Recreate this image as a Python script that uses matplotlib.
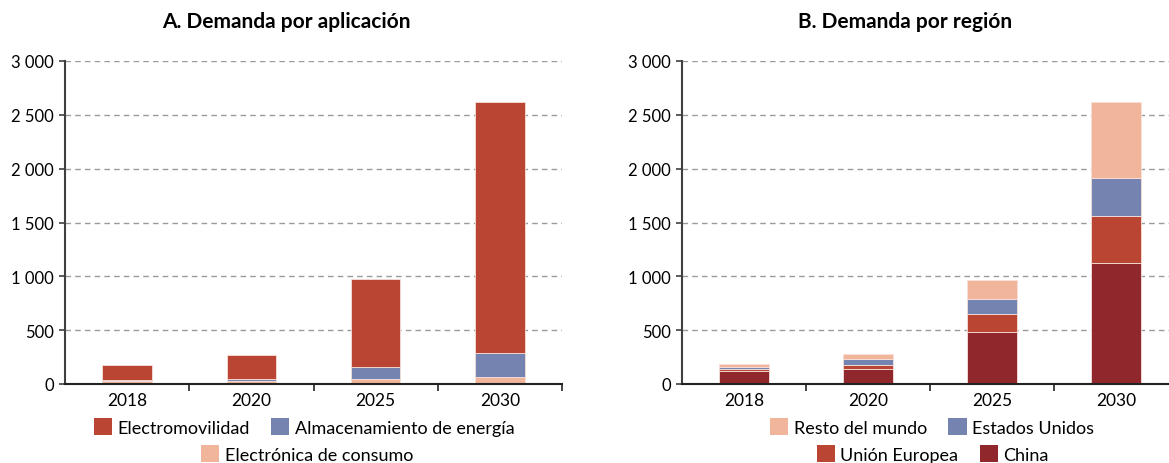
import matplotlib
matplotlib.use("Agg")
import matplotlib.pyplot as plt
from matplotlib.patches import Patch
import numpy as np

plt.rcParams['font.family'] = ['Lato', 'DejaVu Sans']

years = ["2018", "2020", "2025", "2030"]

# Panel A: demand by application
app_labels = ["Electrónica de consumo", "Almacenamiento de energía", "Electromovilidad"]
consumo = [32, 32, 50, 62]
almacenamiento = [5, 15, 105, 222]
electromovilidad = [140, 225, 817, 2336]

# Panel B: demand by region
reg_labels = ["China", "Unión Europea", "Estados Unidos", "Resto del mundo"]
china = [124, 142, 486, 1121]
ue = [15, 31, 164, 439]
eeuu = [21, 62, 139, 356]
resto = [22, 43, 180, 701]

yticks = [0, 500, 1000, 1500, 2000, 2500, 3000]
ytick_labels = ["0", "500", "1 000", "1 500", "2 000", "2 500", "3 000"]

C_RED = "#B94532"
C_BLUE = "#7483B0"
C_PINK = "#F0B59A"
C_DARK = "#90272D"

W, H = 1169, 464
fig = plt.figure(figsize=(W / 100, H / 100), dpi=100)

def px_axes(x0, x1, ytop, ybot):
    return fig.add_axes([x0 / W, (H - ybot) / H, (x1 - x0) / W, (ybot - ytop) / H])

axA = px_axes(65, 562, 62, 385)
axB = px_axes(682, 1178, 62, 385)

def style(ax):
    ax.set_xlim(-0.5, 3.5)
    ax.set_ylim(0, 3000)
    ax.set_yticks(yticks)
    ax.set_yticklabels(ytick_labels, fontsize=12)
    ax.set_xticks(range(len(years)))
    ax.set_xticklabels(years, fontsize=12.5)
    ax.set_xticks([0.5, 1.5, 2.5, 3.5], minor=True)
    ax.tick_params(axis='x', which='major', length=0, pad=6)
    ax.tick_params(axis='x', which='minor', length=5, width=1.2, direction='out', color='#222222')
    ax.tick_params(axis='y', length=4, width=1.2, direction='out', color='#404040', pad=4)
    for s in ['top', 'right']:
        ax.spines[s].set_visible(False)
    ax.spines['left'].set_color('#404040')
    ax.spines['left'].set_linewidth(1.5)
    ax.spines['bottom'].set_color('#222222')
    ax.spines['bottom'].set_linewidth(1.5)
    ax.set_axisbelow(True)
    ax.yaxis.grid(True, color='#9A9A9A', linestyle=(0, (4, 3)), linewidth=1.0)
    ax.xaxis.grid(False)

x = np.arange(len(years))
bw = 0.4
ek = dict(edgecolor='#F7E0DA', linewidth=0.6, width=bw)

# Panel A
b = np.zeros(4)
for vals, col in [(consumo, C_PINK), (almacenamiento, C_BLUE), (electromovilidad, C_RED)]:
    axA.bar(x, vals, bottom=b, color=col, **ek)
    b += np.array(vals)
style(axA)

# Panel B
b = np.zeros(4)
for vals, col in [(china, C_DARK), (ue, C_RED), (eeuu, C_BLUE), (resto, C_PINK)]:
    axB.bar(x, vals, bottom=b, color=col, **ek)
    b += np.array(vals)
style(axB)

fig.text(286 / W, 1 - 22 / H, "A. Demanda por aplicación", ha='center', va='center',
         fontsize=15, fontweight='bold')
fig.text(905 / W, 1 - 22 / H, "B. Demanda por región", ha='center', va='center',
         fontsize=15, fontweight='bold')

legkw = dict(frameon=False, fontsize=13, handlelength=1.0, handleheight=1.0,
             handletextpad=0.3, columnspacing=1.2, borderaxespad=0, borderpad=0)

def add_legend(items, xc, yc):
    handles = [Patch(facecolor=c, edgecolor='none') for _, c in items]
    labels = [l for l, _ in items]
    fig.legend(handles, labels, ncol=len(items), loc='center',
               bbox_to_anchor=(xc, yc), bbox_transform=fig.transFigure, **legkw)

add_legend([(app_labels[2], C_RED), (app_labels[1], C_BLUE)], 304 / W, 1 - 428 / H)
add_legend([(app_labels[0], C_PINK)], 307 / W, 1 - 455 / H)
add_legend([(reg_labels[3], C_PINK), (reg_labels[2], C_BLUE)], 932 / W, 1 - 428 / H)
add_legend([(reg_labels[1], C_RED), (reg_labels[0], C_DARK)], 933 / W, 1 - 455 / H)

fig.savefig("out.png", dpi=100)
